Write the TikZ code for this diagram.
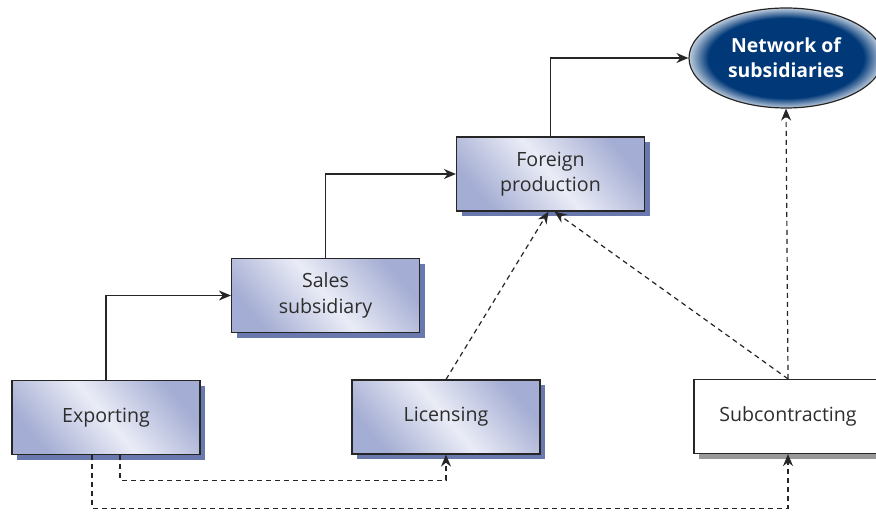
\documentclass[tikz,border=0pt]{standalone}
\usepackage{fontspec}
\setmainfont{Open Sans}
\usetikzlibrary{arrows.meta,shadows,shapes.geometric}
\definecolor{boxblue}{RGB}{164,173,211}
\definecolor{boxlight}{RGB}{234,236,246}
\definecolor{shadowblue}{RGB}{106,121,173}
\definecolor{navyblue}{RGB}{0,56,120}
\definecolor{textgray}{RGB}{45,45,45}
\pgfdeclareradialshading{netglow}{\pgfpoint{0bp}{0bp}}{color(0bp)=(navyblue); color(20bp)=(navyblue); color(25bp)=(white!75!navyblue); color(50bp)=(white)}

\tikzset{
  stagebox/.style={draw=black!85, line width=0.6pt, rectangle, align=center,
    minimum width=94pt, minimum height=37pt, text=textgray,
    font=\fontsize{9.8}{12.8}\selectfont,
    shading=axis, left color=boxblue, right color=boxblue, middle color=boxlight,
    shading angle=-50,
    drop shadow={shadow xshift=2.7pt, shadow yshift=-2.7pt, fill=shadowblue, opacity=1}},
  plainbox/.style={stagebox, shading=axis, left color=white, right color=white, middle color=white,
    drop shadow={shadow xshift=2.7pt, shadow yshift=-2.7pt, fill=black!40, opacity=1}},
  solidarrow/.style={line width=0.6pt, draw=black!85, -{Stealth[length=6pt,width=5pt]}},
  dasharrow/.style={solidarrow, dash pattern=on 2.5pt off 2pt}
}

\begin{document}
\begin{tikzpicture}[x=0.5pt,y=-0.5pt]
        \clip (0,0) rectangle (876,512);
        \fill[white] (0,0) rectangle (876,512);

        % entry modes
        \node[stagebox] (exp) at (106,417.5) {Exporting};
        \node[stagebox] (lic) at (446,417) {Licensing};
        \node[plainbox] (sub) at (788,416.5) {Subcontracting};

        % investment steps
        \node[stagebox] (sales) at (325.5,295.5) {Sales\\subsidiary};
        \node[stagebox] (prod) at (550.5,174) {Foreign\\production};

        % final stage
        \node[ellipse, draw=black!85, line width=0.6pt, shading=netglow, text=white,
              minimum width=97pt, minimum height=50pt, align=center,
              font=\bfseries\fontsize{9.7}{12.5}\selectfont] (net) at (786,58)
              {Network of\\subsidiaries};

        % main route
        \draw[solidarrow] (exp.north) |- (sales.west);
        \draw[solidarrow] (sales.north) |- (prod.west);
        \draw[solidarrow] (prod.north) |- (net.west);

        % alternative routes
        \draw[dasharrow] (lic.north) -- ([xshift=-1pt]prod.south);
        \draw[dasharrow] (sub.north) -- ([xshift=2pt]prod.south);
        \draw[dasharrow] (sub.north) -- (net.south);
        \draw[dasharrow] ([xshift=7pt]exp.south) -- ++(0,25) -| (lic.south);
        \draw[dasharrow] ([xshift=-7pt]exp.south) -- ++(0,53) -| (sub.south);
\end{tikzpicture}
\end{document}
